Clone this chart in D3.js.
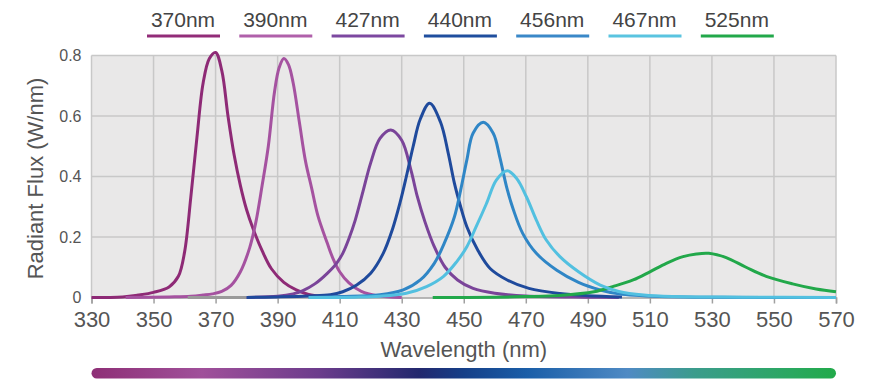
<!DOCTYPE html>
<html>
<head>
<meta charset="utf-8">
<script src="https://cdn.jsdelivr.net/npm/d3@7"></script>
<style>
  body { margin: 0; background: #fff; }
  svg { font-family: Arial, "Liberation Sans", sans-serif; }
</style>
</head>
<body>
<svg id="chart"></svg>
<script>
var w = 880, h = 390;
var margin = {left: 91.5, right: 44, top: 55.5, bottom: 92.5};

// legend / series labels
var labels = ["370nm", "390nm", "427nm", "440nm", "456nm", "467nm", "525nm"];
var colors = ["#8e2a76", "#a552a0", "#7a4499", "#1f4a9c", "#2f86c6", "#52c0e0", "#22a84a"];
var legendColors = ["#922c78", "#b060aa", "#7c48a0", "#1f4e9e", "#3a88c8", "#5ac4e0", "#22a84a"];

// wavelength (nm) and radiant flux (W/nm)
var wl370 = [330, 340, 345, 350, 355, 358, 360, 362, 364, 366, 368, 370, 372, 374, 376, 378, 380, 382, 385, 388, 392, 396, 400, 405, 410];
var fx370 = [0, 0.002, 0.008, 0.017, 0.035, 0.07, 0.15, 0.33, 0.53, 0.71, 0.79, 0.81, 0.75, 0.6, 0.47, 0.37, 0.29, 0.23, 0.155, 0.095, 0.05, 0.025, 0.01, 0.003, 0];

var wl390 = [341, 355, 362, 366, 369, 372, 375, 378, 381, 383, 385, 387, 389, 390.5, 392, 393.5, 395, 397, 399, 401, 403, 406, 408, 410, 413, 417, 422, 430];
var fx390 = [0, 0.002, 0.004, 0.008, 0.012, 0.02, 0.04, 0.085, 0.165, 0.25, 0.37, 0.5, 0.68, 0.76, 0.79, 0.77, 0.71, 0.58, 0.45, 0.36, 0.27, 0.18, 0.125, 0.085, 0.048, 0.02, 0.006, 0];

var wlGray = [361, 380];
var fxGray = [0, 0];

var wl427 = [380, 390, 395, 398, 402, 406, 409, 411, 413, 415, 417.5, 420, 423, 426.5, 430, 433, 435, 437.5, 440.5, 444, 448, 453, 460, 470, 490, 500];
var fx427 = [0, 0.004, 0.012, 0.022, 0.045, 0.08, 0.113, 0.146, 0.195, 0.255, 0.35, 0.445, 0.526, 0.554, 0.52, 0.42, 0.335, 0.25, 0.168, 0.1, 0.058, 0.03, 0.014, 0.005, 0.001, 0];

var wl440 = [380, 390, 400, 407, 411, 415.5, 420, 424, 427, 429.5, 431.5, 433.7, 436, 439, 442.5, 445, 447, 449, 451, 454.5, 458.5, 464, 471, 481, 490, 501];
var fx440 = [0, 0.002, 0.005, 0.009, 0.019, 0.041, 0.08, 0.145, 0.225, 0.315, 0.4, 0.5, 0.59, 0.642, 0.58, 0.477, 0.377, 0.3, 0.234, 0.157, 0.096, 0.058, 0.03, 0.013, 0.006, 0.002];

var wl456 = [400, 410, 423, 430.5, 436, 440.5, 443.7, 447, 449, 451, 453, 456.3, 459.5, 461.6, 463.8, 466, 469, 473.4, 480, 487, 494, 500, 513, 530, 570];
var fx456 = [0, 0.003, 0.009, 0.025, 0.058, 0.113, 0.179, 0.267, 0.355, 0.455, 0.543, 0.579, 0.543, 0.465, 0.366, 0.29, 0.212, 0.146, 0.09, 0.05, 0.025, 0.012, 0.003, 0.001, 0];

var wl467 = [400, 415, 423, 431.5, 438, 443.4, 447.7, 451, 454, 457.3, 460.5, 464, 467, 470.2, 473.4, 476.6, 481, 487, 494, 500, 508, 518, 540, 570];
var fx467 = [0, 0.001, 0.004, 0.014, 0.036, 0.069, 0.118, 0.168, 0.234, 0.31, 0.388, 0.419, 0.394, 0.333, 0.256, 0.19, 0.135, 0.085, 0.041, 0.02, 0.008, 0.003, 0.001, 0];

var wl525 = [440, 460, 470, 481, 492, 498, 504.6, 510, 515.3, 520.7, 525, 529, 534.6, 541, 547.5, 556, 563.6, 570];
var fx525 = [0, 0.001, 0.003, 0.007, 0.019, 0.036, 0.058, 0.085, 0.113, 0.135, 0.144, 0.146, 0.132, 0.1, 0.07, 0.045, 0.028, 0.019];

var xTicks = [330, 350, 370, 390, 410, 430, 450, 470, 490, 510, 530, 550, 570];
var yTicks = [0, 0.2, 0.4, 0.6, 0.8];

// spectrum bar under the axis
var barStops = [0, 0.148, 0.305, 0.44, 0.5, 0.585, 0.72, 0.81, 0.94, 1];
var barColors = ["#8e2f76", "#a0509a", "#6c3c8c", "#23286e", "#153f88", "#1a5ea8", "#4f8ac4", "#3b9c8c", "#2aa860", "#22aa4a"];

var series = [
  {wl: wl370, fx: fx370, color: colors[0]},
  {wl: wl390, fx: fx390, color: colors[1]},
  {wl: wlGray, fx: fxGray, color: "#9a9a9a"},
  {wl: wl427, fx: fx427, color: colors[2]},
  {wl: wl440, fx: fx440, color: colors[3]},
  {wl: wl456, fx: fx456, color: colors[4]},
  {wl: wl525, fx: fx525, color: colors[6]},
  {wl: wl467, fx: fx467, color: colors[5]}
];

var svg = d3.select("#chart").attr("width", w).attr("height", h);

var x = d3.scaleLinear().domain([330, 570]).range([margin.left, w - margin.right]);
var y = d3.scaleLinear().domain([0, 0.8]).range([h - margin.bottom, margin.top]);

var y0 = y(0);

// plot background
svg.append("rect")
  .attr("x", x(330)).attr("y", y(0.8))
  .attr("width", x(570) - x(330)).attr("height", y0 - y(0.8))
  .attr("fill", "#e9e8e8");

// grid
svg.append("g").selectAll("line").data(xTicks).enter().append("line")
  .attr("x1", function(d) { return x(d); }).attr("x2", function(d) { return x(d); })
  .attr("y1", y(0.8)).attr("y2", y0)
  .attr("stroke", "#c8c8c8").attr("stroke-width", 1.5);
svg.append("g").selectAll("line").data(yTicks.slice(1)).enter().append("line")
  .attr("x1", x(330)).attr("x2", x(570))
  .attr("y1", function(d) { return y(d); }).attr("y2", function(d) { return y(d); })
  .attr("stroke", "#c8c8c8").attr("stroke-width", 1.5);

// x axis
var xAxis = svg.append("g")
  .attr("transform", "translate(0," + y0 + ")")
  .call(d3.axisBottom(x).tickValues(xTicks).tickSize(6).tickPadding(8).tickFormat(d3.format("d")));
xAxis.select(".domain").attr("stroke", "#a0a0a0").attr("stroke-width", 1.5);
xAxis.selectAll(".tick line").attr("stroke", "#a0a0a0").attr("stroke-width", 1.5);
xAxis.selectAll("text").attr("fill", "#555").style("font-size", "22px");

// y axis labels
var yAxis = svg.append("g")
  .attr("transform", "translate(" + x(330) + ",0)")
  .call(d3.axisLeft(y).tickValues(yTicks).tickSize(0).tickPadding(10)
    .tickFormat(function(d) { return d === 0 ? "0" : d3.format(".1f")(d); }));
yAxis.select(".domain").remove();
yAxis.selectAll("text").attr("fill", "#555").style("font-size", "16px");

// curves
var line = d3.line()
  .x(function(d) { return x(d[0]); })
  .y(function(d) { return Math.min(y0, y(d[1])); })
  .curve(d3.curveCatmullRom.alpha(0.5));

svg.append("g").selectAll("path").data(series).enter().append("path")
  .attr("d", function(s) { return line(d3.zip(s.wl, s.fx)); })
  .attr("fill", "none")
  .attr("stroke", function(s) { return s.color; })
  .attr("stroke-width", 3)
  .attr("stroke-linejoin", "round");

// axis titles
svg.append("text")
  .attr("x", (x(330) + x(570)) / 2).attr("y", 357)
  .attr("text-anchor", "middle").attr("fill", "#555")
  .style("font-size", "22px")
  .text("Wavelength (nm)");

svg.append("text")
  .attr("transform", "translate(43," + ((y(0.8) + y0) / 2 + 2) + ")rotate(-90)")
  .attr("text-anchor", "middle").attr("fill", "#555")
  .style("font-size", "22px")
  .text("Radiant Flux (W/nm)");

// legend
var legend = svg.append("g").selectAll("g").data(labels).enter().append("g")
  .attr("transform", function(d, i) { return "translate(" + (147 + i * 92.3) + ",0)"; });
legend.append("text")
  .attr("x", 36).attr("y", 27)
  .attr("text-anchor", "middle").attr("fill", "#444")
  .style("font-size", "21px")
  .text(function(d) { return d; });
legend.append("line")
  .attr("x1", 0).attr("x2", 73).attr("y1", 36).attr("y2", 36)
  .attr("stroke", function(d, i) { return legendColors[i]; })
  .attr("stroke-width", 3);

// spectrum bar
var grad = svg.append("defs").append("linearGradient").attr("id", "spectrum");
grad.selectAll("stop").data(barStops).enter().append("stop")
  .attr("offset", function(d) { return d; })
  .attr("stop-color", function(d, i) { return barColors[i]; });
svg.append("rect")
  .attr("x", x(330)).attr("y", 368)
  .attr("width", x(570) - x(330)).attr("height", 10.5)
  .attr("rx", 5.25)
  .attr("fill", "url(#spectrum)");
</script>
</body>
</html>
